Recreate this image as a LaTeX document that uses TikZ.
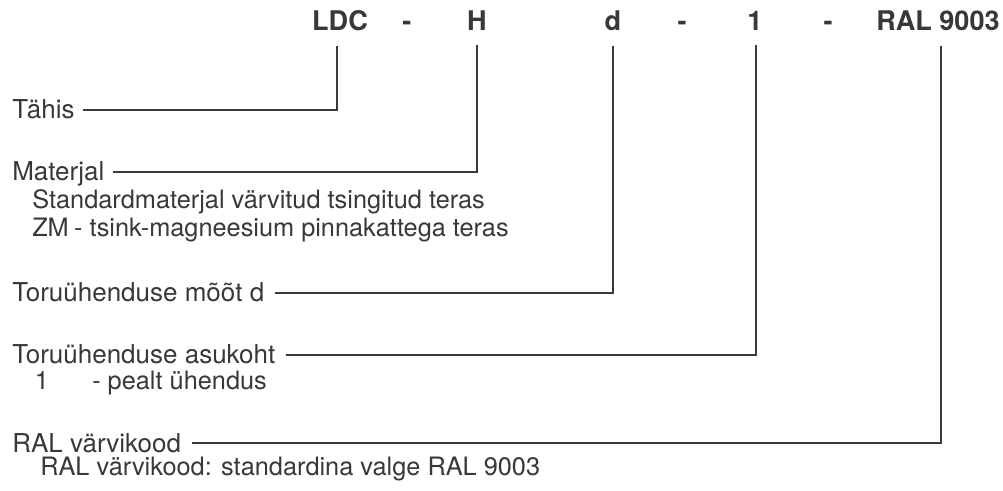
\documentclass[tikz,border=0pt]{standalone}
\usepackage{fontspec}
\setmainfont{TeX Gyre Heros}
\definecolor{txt}{HTML}{383838}
\definecolor{ln}{HTML}{3A3A3A}
\begin{document}
\begin{tikzpicture}[x=0.75pt,y=-0.75pt,
  hdr/.style={font=\fontsize{20.3pt}{23pt}\selectfont\bfseries, text=txt, inner sep=0pt, anchor=base},
  lbl/.style={font=\fontsize{19.5pt}{22pt}\selectfont, text=txt, inner sep=0pt, anchor=base west, text height=14pt, text depth=0pt},
  sub/.style={font=\fontsize{19pt}{22pt}\selectfont, text=txt, inner sep=0pt, anchor=base west},
  conn/.style={draw=ln, line width=1.3pt}]
\useasboundingbox (0,0) rectangle (1003,491);
% header
\node[hdr] (ldc) at (340,31) {LDC};
\node[hdr] (d1) at (407,31) {-};
\node[hdr] (h) at (477,31) {H};
\node[hdr] (dd) at (613,31) {d};
\node[hdr] (d2) at (682,31) {-};
\node[hdr] (one) at (755,31) {1};
\node[hdr] (d3) at (828,31) {-};
\node[hdr,anchor=base west] (ral) at (876,31) {RAL 9003};
% labels
\node[lbl] (tahis) at (12,119) {Tähis};
\node[lbl] (mat) at (12,181) {Materjal};
\node[sub] (mat1) at (32,209) {Standardmaterjal värvitud tsingitud teras};
\node[sub] (mat2) at (32,237) {\makebox[31.5pt][l]{ZM}- tsink-magneesium pinnakattega teras};
\node[lbl] (moot) at (12,302) {Toruühenduse mõõt d};
\node[lbl] (asu) at (12,364) {Toruühenduse asukoht};
\node[sub] (asu1) at (32,390) {\makebox[45pt][l]{\hspace{2pt}1}- pealt ühendus};
\node[lbl] (rallbl) at (12,452) {RAL värvikood};
\node[sub] (ral1) at (40,475) {RAL värvikood: standardina valge RAL 9003};
% connectors
\draw[conn] ([xshift=6pt]tahis.east) -| ([xshift=-2pt,yshift=-10.5pt]ldc.south);
\draw[conn] ([xshift=6pt]mat.east) -| ([yshift=-10.5pt]h.south);
\draw[conn] ([xshift=8pt]moot.east) -| ([yshift=-10.5pt]dd.south);
\draw[conn] ([xshift=8pt]asu.east) -| ([xshift=0.75pt,yshift=-10.5pt]one.south);
\draw[conn] ([xshift=8pt]rallbl.east) -| ([xshift=2.25pt,yshift=-10.5pt]ral.south);
\end{tikzpicture}
\end{document}
